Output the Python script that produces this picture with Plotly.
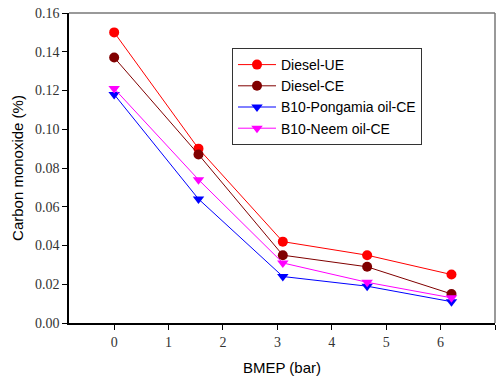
import plotly.graph_objects as go

bmep = [0, 1.55, 3.1, 4.65, 6.2]
diesel_ue = [0.150, 0.090, 0.042, 0.035, 0.025]
diesel_ce = [0.137, 0.087, 0.035, 0.029, 0.015]
pongamia_ce = [0.118, 0.064, 0.024, 0.019, 0.011]
neem_ce = [0.121, 0.074, 0.031, 0.021, 0.013]

series = [
    ("Diesel-UE", diesel_ue, "#ff0000", "circle"),
    ("Diesel-CE", diesel_ce, "#800000", "circle"),
    ("B10-Pongamia oil-CE", pongamia_ce, "#0000ff", "triangle-down"),
    ("B10-Neem oil-CE", neem_ce, "#ff00ff", "triangle-down"),
]

SERIF = "Liberation Serif"
SANS = "Liberation Sans"

fig = go.Figure()
for name, vals, col, sym in series:
    fig.add_trace(go.Scatter(
        x=bmep, y=vals, name=name, mode="lines+markers",
        line=dict(color=col, width=1),
        marker=dict(color=col, symbol=sym, size=10),
    ))

fig.update_layout(
    width=496, height=379,
    margin=dict(l=69, r=1, t=13, b=56),
    paper_bgcolor="white", plot_bgcolor="white",
    font=dict(family=SANS),
    showlegend=True,
    legend=dict(
        x=(232 - 69) / 426, y=(323 - 48) / 310, xanchor="left", yanchor="top",
        bordercolor="#333333", borderwidth=1, bgcolor="white",
        font=dict(family=SANS, size=14, color="black"),
        tracegroupgap=0, itemwidth=38,
    ),
    xaxis=dict(
        range=[-0.83, 7], tickvals=[0, 1, 2, 3, 4, 5, 6, 7],
        showgrid=False, zeroline=False,
        showline=True, linecolor="black", linewidth=1.5,
        ticks="outside", ticklen=5, tickcolor="black", tickwidth=1,
        tickfont=dict(family=SERIF, size=14, color="#333333"),
        title=dict(text="BMEP (bar)", font=dict(family=SANS, size=15, color="black"), standoff=14),
    ),
    yaxis=dict(
        range=[0, 0.16], tickvals=[0, 0.02, 0.04, 0.06, 0.08, 0.10, 0.12, 0.14, 0.16],
        tickformat=".2f",
        showgrid=False, zeroline=False,
        showline=True, linecolor="black", linewidth=1.5,
        ticks="outside", ticklen=5, tickcolor="black", tickwidth=1,
        tickfont=dict(family=SERIF, size=14, color="#333333"),
        title=dict(text="Carbon monoxide (%)", font=dict(family=SANS, size=15, color="black"), standoff=8),
    ),
    shapes=[
        dict(type="line", xref="x domain", yref="y domain", x0=0, x1=1, y0=1, y1=1,
             line=dict(color="#777777", width=1.5)),
        dict(type="line", xref="x domain", yref="y domain", x0=1, x1=1, y0=0, y1=1,
             line=dict(color="#777777", width=1.5)),
    ],
)

fig.write_html("out.html")
